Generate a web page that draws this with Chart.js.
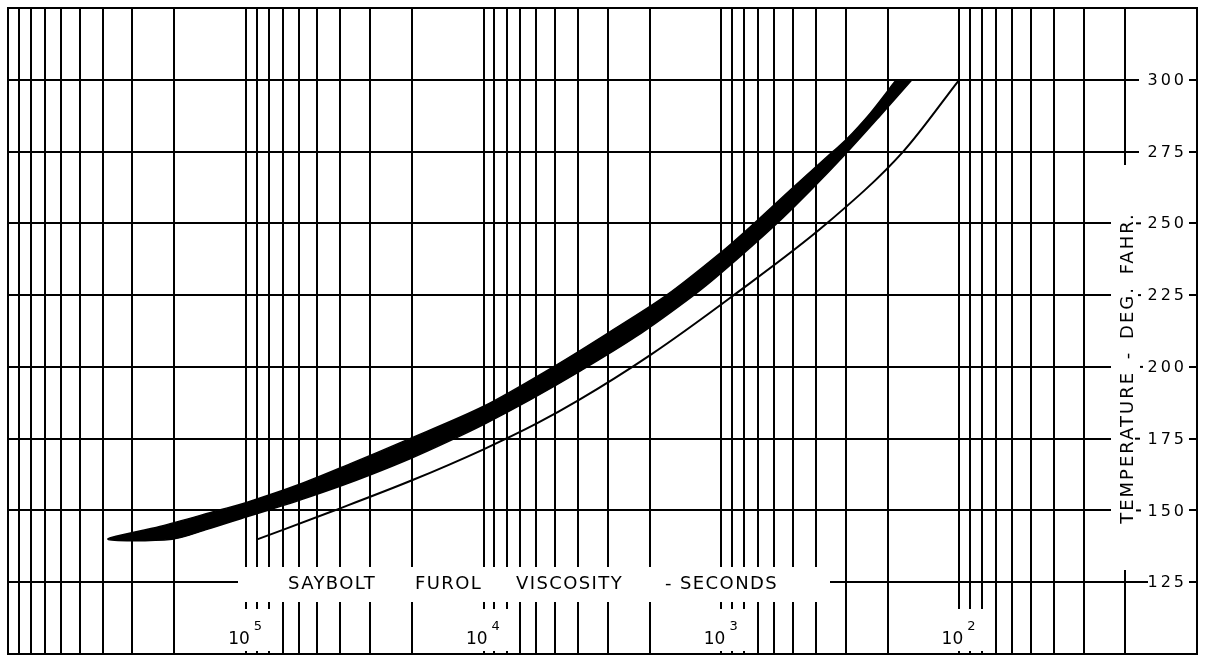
<!DOCTYPE html>
<html><head><meta charset="utf-8">
<script src="https://cdn.jsdelivr.net/npm/chart.js@4/dist/chart.umd.min.js"></script>
<style>html,body{margin:0;padding:0;background:#fff;}canvas{display:block;}</style>
</head><body>
<canvas id="c" width="1206" height="658"></canvas>
<script>
// ---- data (viscosity in Saybolt Furol seconds, temperature in deg F) ----
// heavy band: upper (hotter) edge and lower edge
const bandUpperV = [380000, 230000, 131000, 100000, 59000, 36500, 21400, 10000, 5100, 3000, 1700, 1000, 740, 500, 340, 300, 237, 184];
const bandUpperT = [140, 144.4, 150, 152.7, 159.2, 166.2, 174.3, 186.3, 200, 211.8, 225, 240, 249.5, 262.5, 275, 279, 288.3, 300];
const bandLowerV = [380000, 204000, 145600, 99000, 76900, 59200, 40200, 29500, 20400, 14250, 9960, 6380, 3930, 2290, 1330, 994, 584, 416, 302, 215, 158];
const bandLowerT = [140, 140, 143.4, 147.8, 150.6, 153.6, 158.4, 162.6, 168, 173.8, 180, 188.5, 198.5, 210.5, 224.5, 233, 250, 262, 274, 287.5, 300];
// thin curve
const thinV = [89000, 43000, 20000, 10000, 6000, 4000, 2000, 900, 360, 172, 100];
const thinT = [140, 149.8, 160.5, 171.3, 180.2, 188.3, 204, 224.6, 250, 275, 300];

const xMin = 10, xMax = 1000000;
const yMin = 100, yMax = 325, yStep = 25;
const yTickLabels = ['300', '275', '250', '225', '200', '175', '150', '125'];
const decadeValues = [100000, 10000, 1000, 100];
const decadeExponents = ['5', '4', '3', '2'];
const xTitleWords = ['SAYBOLT', 'FUROL', 'VISCOSITY', '- SECONDS'];
const yTitle = 'TEMPERATURE - DEG. FAHR.';

// grid tick values of a log paper: 1..9 x 10^n
const significands = [1, 2, 3, 4, 5, 6, 7, 8, 9];
const decadesBase = [10, 100, 1000, 10000, 100000];
const xGrid = [];
decadesBase.forEach(d => significands.forEach(s => xGrid.push(s * d)));
xGrid.push(xMax);

const bandOutline = [];
for (let i = bandUpperV.length - 1; i >= 0; i--) bandOutline.push({x: bandUpperV[i], y: bandUpperT[i]});
for (let i = 1; i < bandLowerV.length; i++) bandOutline.push({x: bandLowerV[i], y: bandLowerT[i]});
const thinLine = thinV.map((v, i) => ({x: v, y: thinT[i]}));

const FONT = '"DejaVu Sans", sans-serif';
const INK = '#000';

const decor = {
  id: 'decor',
  beforeDatasetsDraw(chart) {
    const ctx = chart.ctx;
    const xs = chart.scales.x, ys = chart.scales.y;
    ctx.save();
    ctx.fillStyle = '#fff';
    // label areas that break the grid
    ctx.fillRect(1139, 9, 50, 566);
    ctx.fillRect(1148, 575, 41, 78);
    ctx.fillRect(1111, 165, 28, 405);
    ctx.fillRect(238, 567, 592, 35);
    decadeValues.forEach(v => {
      const px = xs.getPixelForValue(v);
      ctx.fillRect(px - 20, 609, 46, 42);
    });
    // small dashes beside tick labels
    ctx.strokeStyle = INK;
    ctx.lineWidth = 2;
    [[250, 1136, 1141], [225, 1138, 1141], [200, 1140, 1143], [175, 1135, 1140], [150, 1136, 1141]].forEach(([t, a, b]) => {
      const py = ys.getPixelForValue(t);
      ctx.beginPath(); ctx.moveTo(a, py); ctx.lineTo(b, py); ctx.stroke();
    });
    ctx.fillStyle = INK;
    // y tick labels
    ctx.font = '16px ' + FONT;
    ctx.letterSpacing = '3px';
    ctx.textAlign = 'right';
    ctx.textBaseline = 'middle';
    yTickLabels.forEach(l => {
      ctx.fillText(l, 1187, ys.getPixelForValue(Number(l)) + 1);
    });
    // vertical title
    ctx.save();
    ctx.translate(1133, 368);
    ctx.rotate(-Math.PI / 2);
    ctx.font = '18px ' + FONT;
    ctx.letterSpacing = '2px';
    ctx.wordSpacing = '4px';
    ctx.textAlign = 'center';
    ctx.textBaseline = 'alphabetic';
    ctx.fillText(yTitle, 0, 0);
    ctx.restore();
    // x title
    ctx.font = '18px ' + FONT;
    ctx.letterSpacing = '1.4px';
    ctx.textAlign = 'left';
    ctx.textBaseline = 'alphabetic';
    const wordX = [288, 415, 516, 665];
    xTitleWords.forEach((w, i) => ctx.fillText(w, wordX[i], 589));
    // decade labels
    decadeValues.forEach((v, i) => {
      const px = xs.getPixelForValue(v);
      ctx.font = '17px ' + FONT;
      ctx.letterSpacing = '0px';
      ctx.textAlign = 'right';
      ctx.fillText('10', px + 4, 644);
      ctx.font = '13px ' + FONT;
      ctx.textAlign = 'left';
      ctx.fillText(decadeExponents[i], px + 8, 630);
    });
    ctx.restore();
  },
  afterDraw(chart) {
    const ctx = chart.ctx, a = chart.chartArea;
    ctx.save();
    ctx.strokeStyle = INK;
    ctx.lineWidth = 2;
    ctx.strokeRect(a.left, a.top, a.right - a.left, a.bottom - a.top);
    ctx.restore();
  }
};

new Chart(document.getElementById('c'), {
  type: 'line',
  data: {
    datasets: [
      {data: bandOutline, borderColor: INK, backgroundColor: INK, borderWidth: 1.5, fill: 'shape', tension: 0.3, pointRadius: 0},
      {data: thinLine, borderColor: INK, borderWidth: 2, fill: false, cubicInterpolationMode: 'monotone', pointRadius: 0}
    ]
  },
  options: {
    responsive: false,
    animation: false,
    devicePixelRatio: 1,
    layout: {padding: {left: 8, top: 8, right: 9, bottom: 4}},
    plugins: {legend: {display: false}, tooltip: {enabled: false}, title: {display: false}},
    scales: {
      x: {
        type: 'logarithmic', min: xMin, max: xMax, reverse: true,
        afterBuildTicks: s => { s.ticks = xGrid.map(v => ({value: v})); },
        ticks: {display: false},
        grid: {color: INK, lineWidth: 2, drawTicks: false},
        border: {display: false}
      },
      y: {
        type: 'linear', min: yMin, max: yMax,
        ticks: {display: false, stepSize: yStep},
        grid: {color: INK, lineWidth: 2, drawTicks: false},
        border: {display: false}
      }
    }
  },
  plugins: [decor]
});
</script>
</body></html>
